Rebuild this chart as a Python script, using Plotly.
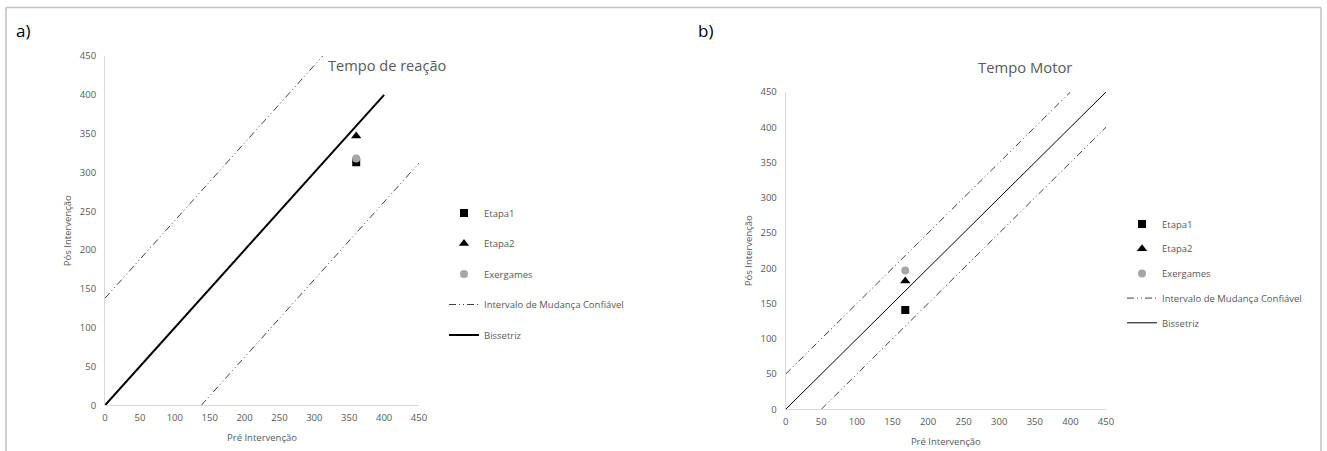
import plotly.graph_objects as go

# ---------------- data ----------------
series_names = ["Etapa1", "Etapa2", "Exergames"]
line_names = ["Intervalo de Mudança Confiável", "Bissetriz"]

# Panel a) Tempo de reação
a_pre = [360, 360, 360]          # Etapa1, Etapa2, Exergames
a_pos = [313, 347, 318]
a_icm = 138                      # reliable change interval
a_bis_x = [0, 400]
a_bis_y = [0, 400]

# Panel b) Tempo Motor
b_pre = [168, 168, 168]
b_pos = [141, 182, 197]
b_icm = 50
b_bis_x = [0, 450]
b_bis_y = [0, 450]

axis_max = 450
tick_vals = [0, 50, 100, 150, 200, 250, 300, 350, 400, 450]

# ---------------- styling ----------------
FONT = "Open Sans"
GRAY = "#595959"
symbols = ["square", "triangle-up", "circle"]
colors = ["#000000", "#000000", "#a6a6a6"]
sizes = [8, 9, 8]
DASH = "7px,3px,1px,3px,1px,3px"

W, H = 1327, 451
def px_x(p):
    return p / W
def px_y(p):
    return (H - p) / H

fig = go.Figure()

def add_panel(pre, pos, icm, bis_x, bis_y, xa, ya, legend, bis_width):
    for i, name in enumerate(series_names):
        fig.add_trace(go.Scatter(
            x=[pre[i]], y=[pos[i]], mode="markers", name=name,
            marker=dict(symbol=symbols[i], color=colors[i], size=sizes[i]),
            xaxis=xa, yaxis=ya, legend=legend, legendgroup=legend + name,
        ))
    ux = [0, axis_max - icm, None, icm, axis_max]
    uy = [icm, axis_max, None, 0, axis_max - icm]
    fig.add_trace(go.Scatter(
        x=ux, y=uy, mode="lines", name=line_names[0],
        line=dict(color="#404040", width=1, dash=DASH),
        xaxis=xa, yaxis=ya, legend=legend, legendgroup=legend + "icm",
    ))
    fig.add_trace(go.Scatter(
        x=bis_x, y=bis_y, mode="lines", name=line_names[1],
        line=dict(color="#000000", width=bis_width),
        xaxis=xa, yaxis=ya, legend=legend, legendgroup=legend + "bis",
    ))

add_panel(a_pre, a_pos, a_icm, a_bis_x, a_bis_y, "x", "y", "legend", 2)
add_panel(b_pre, b_pos, b_icm, b_bis_x, b_bis_y, "x2", "y2", "legend2", 1)

tickfont = dict(family=FONT, size=9.5, color=GRAY)
titlefont = dict(family=FONT, size=9.5, color=GRAY)

def axis(domain, anchor, title, standoff, tick_standoff):
    return dict(
        domain=domain, anchor=anchor, range=[0, axis_max],
        tickvals=tick_vals, showgrid=False, zeroline=False,
        showline=True, linecolor="#d9d9d9", linewidth=1,
        ticks="", tickfont=tickfont, automargin=False,
        ticklabelstandoff=tick_standoff,
        title=dict(text=title, font=titlefont, standoff=standoff),
        fixedrange=True,
    )

fig.update_layout(
    width=W, height=H,
    margin=dict(l=0, r=0, t=0, b=0, pad=0, autoexpand=False),
    paper_bgcolor="white", plot_bgcolor="white",
    showlegend=True,
    xaxis=axis([px_x(105), px_x(419)], "y", "Pré Intervenção", 11.5, 3),
    yaxis=axis([px_y(405.3), px_y(56)], "x", "Pós Intervenção", 5.5, 6),
    xaxis2=axis([px_x(785.7), px_x(1106)], "y2", "Pré Intervenção", 11.5, 3),
    yaxis2=axis([px_y(409.3), px_y(92)], "x2", "Pós Intervenção", 6, 6),
    legend=dict(x=px_x(444), y=px_y(198.5), xanchor="left", yanchor="top",
                font=dict(family=FONT, size=9.5, color=GRAY),
                tracegroupgap=11.5, itemwidth=30, bgcolor="rgba(0,0,0,0)"),
    legend2=dict(x=px_x(1122), y=px_y(209.5), xanchor="left", yanchor="top",
                 font=dict(family=FONT, size=9.5, color=GRAY),
                 tracegroupgap=5.7, itemwidth=30, bgcolor="rgba(0,0,0,0)"),
    annotations=[
        dict(text="a)", x=px_x(14), y=px_y(30), xref="paper", yref="paper",
             xanchor="left", yanchor="middle", showarrow=False,
             font=dict(family=FONT, size=17, color="#000000")),
        dict(text="b)", x=px_x(696), y=px_y(30), xref="paper", yref="paper",
             xanchor="left", yanchor="middle", showarrow=False,
             font=dict(family=FONT, size=17, color="#000000")),
        dict(text="Tempo de reação", x=px_x(326), y=px_y(65), xref="paper", yref="paper",
             xanchor="left", yanchor="middle", showarrow=False,
             font=dict(family=FONT, size=14.6, color=GRAY)),
        dict(text="Tempo Motor", x=px_x(976), y=px_y(67), xref="paper", yref="paper",
             xanchor="left", yanchor="middle", showarrow=False,
             font=dict(family=FONT, size=14.8, color=GRAY)),
    ],
    shapes=[
        dict(type="line", xref="paper", yref="paper",
             x0=px_x(6), x1=px_x(1321), y0=px_y(7.5), y1=px_y(7.5),
             line=dict(color="#c0c0c0", width=1.5)),
        dict(type="line", xref="paper", yref="paper",
             x0=px_x(6), x1=px_x(6), y0=px_y(7.5), y1=0,
             line=dict(color="#c0c0c0", width=1.5)),
        dict(type="line", xref="paper", yref="paper",
             x0=px_x(1321), x1=px_x(1321), y0=px_y(7.5), y1=0,
             line=dict(color="#c0c0c0", width=1.5)),
    ],
)

fig.write_html("out.html", config={"displayModeBar": False},
               post_script="document.body.style.margin='0';")
